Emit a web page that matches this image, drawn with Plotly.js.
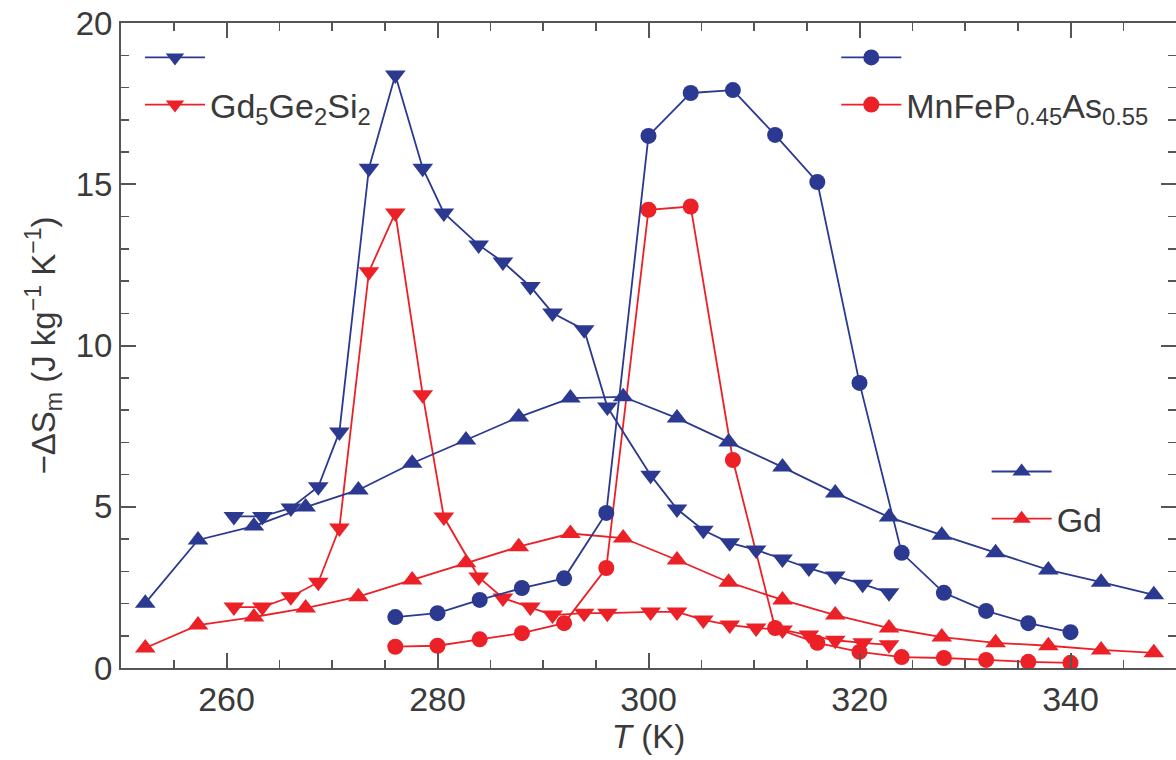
<!DOCTYPE html>
<html>
<head>
<meta charset="utf-8">
<script src="https://cdn.plot.ly/plotly-3.0.1.min.js"></script>
<style>html,body{margin:0;padding:0;background:#fff}#chart{width:1176px;height:760px}</style>
</head>
<body>
<div id="chart"></div>
<script>
// Gd5Ge2Si2 (down triangles)
var T_GGS = [260.7, 263.4, 266.1, 268.7, 270.7, 273.5, 276.0, 278.6, 280.6, 283.9, 286.2, 288.8, 290.9, 293.9, 296.1, 300.2, 302.7, 305.2, 307.7, 310.2, 312.7, 315.2, 317.7, 320.3, 322.8];
var GGS_high = [4.7, 4.7, 4.96, 5.62, 7.32, 15.5, 18.39, 15.5, 14.11, 13.12, 12.59, 11.83, 11.01, 10.49, 8.09, 5.98, 4.93, 4.27, 3.88, 3.66, 3.38, 3.1, 2.85, 2.6, 2.33];
var GGS_low = [1.89, 1.89, 2.21, 2.66, 4.34, 12.29, 14.11, 8.47, 4.68, 2.82, 2.17, 1.89, 1.64, 1.7, 1.7, 1.74, 1.74, 1.49, 1.33, 1.24, 1.18, 1.02, 0.86, 0.78, 0.72];
// MnFeP0.45As0.55 (circles)
var T_MFP = [276, 280, 284, 288, 292, 296, 300, 304, 308, 312, 316, 320, 324, 328, 332, 336, 340];
var MFP_high = [1.58, 1.7, 2.11, 2.48, 2.78, 4.81, 16.5, 17.83, 17.92, 16.53, 15.07, 8.84, 3.57, 2.33, 1.77, 1.39, 1.11];
var MFP_low = [0.66, 0.69, 0.89, 1.08, 1.39, 3.1, 14.21, 14.31, 6.45, 1.24, 0.78, 0.5, 0.34, 0.31, 0.25, 0.19, 0.16];
// Gd (up triangles)
var T_Gd = [252.3, 257.3, 262.6, 267.5, 272.5, 277.6, 282.7, 287.7, 292.6, 297.6, 302.7, 307.6, 312.7, 317.7, 322.8, 327.8, 332.9, 337.9, 342.9, 347.9];
var Gd_high = [2.01, 3.97, 4.4, 4.99, 5.52, 6.35, 7.07, 7.78, 8.37, 8.41, 7.75, 7.01, 6.23, 5.43, 4.68, 4.12, 3.57, 3.04, 2.66, 2.27];
var Gd_low = [0.62, 1.33, 1.58, 1.86, 2.21, 2.73, 3.26, 3.76, 4.17, 4.03, 3.35, 2.66, 2.11, 1.64, 1.24, 0.96, 0.78, 0.69, 0.56, 0.47];

var labels = {
  ggs: 'Gd<sub>5</sub>Ge<sub>2</sub>Si<sub>2</sub>',
  mfp: 'MnFeP<sub>0.45</sub>As<sub>0.55</sub>',
  gd: 'Gd',
  blank: '\u00a0'
};

var BLUE = '#2b3990', RED = '#ec2027';
function tr(x, y, color, symbol, size, name, legend, rank) {
  return {
    x: x, y: y, type: 'scatter', mode: 'lines+markers', name: name,
    legend: legend, legendrank: rank,
    line: {color: color, width: 1.8},
    marker: {color: color, symbol: symbol, size: size, line: {width: 0}}
  };
}
var data = [
  tr(T_Gd, Gd_low, RED, 'triangle-up', 18, labels.gd, 'legend3', 2),
  tr(T_MFP, MFP_low, RED, 'circle', 16, labels.mfp, 'legend2', 2),
  tr(T_GGS, GGS_low, RED, 'triangle-down', 18, labels.ggs, 'legend', 2),
  tr(T_Gd, Gd_high, BLUE, 'triangle-up', 18, labels.blank, 'legend3', 1),
  tr(T_MFP, MFP_high, BLUE, 'circle', 16, labels.blank, 'legend2', 1),
  tr(T_GGS, GGS_high, BLUE, 'triangle-down', 18, labels.blank, 'legend', 1)
];

var TXT = '#3a3a3a';
var FONT = 'Liberation Sans, Arial, sans-serif';
var legBase = {bgcolor: 'rgba(0,0,0,0)', borderwidth: 0, traceorder: 'normal',
  font: {family: FONT, size: 34, color: TXT}, xanchor: 'left', yanchor: 'top', itemwidth: 60};

var layout = {
  width: 1176, height: 760,
  margin: {l: 121, r: 0, t: 23, b: 92},
  paper_bgcolor: '#fff', plot_bgcolor: '#fff',
  font: {family: FONT, color: TXT},
  xaxis: {
    range: [250, 350], tick0: 260, dtick: 20, ticks: 'inside', ticklen: 15, tickwidth: 2,
    tickcolor: '#555', linecolor: '#555', linewidth: 2, mirror: 'allticks', showline: true,
    showgrid: false, zeroline: false,
    tickfont: {family: FONT, size: 34, color: TXT},
    minor: {dtick: 5, tick0: 250, ticks: 'inside', ticklen: 8, tickwidth: 1.5, tickcolor: '#555', showgrid: false},
    title: {text: '<i>T</i> (K)', font: {family: FONT, size: 33, color: TXT}, standoff: 8}
  },
  yaxis: {
    range: [0, 20], tick0: 0, dtick: 5, ticks: 'inside', ticklen: 15, tickwidth: 2,
    tickcolor: '#555', linecolor: '#555', linewidth: 2, mirror: 'allticks', showline: true,
    showgrid: false, zeroline: false,
    tickfont: {family: FONT, size: 33, color: TXT},
    minor: {dtick: 1, ticks: 'inside', ticklen: 8, tickwidth: 1.5, tickcolor: '#555', showgrid: false},
    title: {text: '\u2212\u0394S<sub>m</sub> (J kg<sup>\u22121</sup> K<sup>\u22121</sup>)', font: {family: FONT, size: 33, color: TXT}, standoff: 10}
  },
  legend: Object.assign({}, legBase, {x: 0.018, y: 0.991}),
  legend2: Object.assign({}, legBase, {x: 0.678, y: 0.991}),
  legend3: Object.assign({}, legBase, {x: 0.8205, y: 0.349}),
  showlegend: true
};

Plotly.newPlot('chart', data, layout, {displayModeBar: false, staticPlot: true});
</script>
</body>
</html>
